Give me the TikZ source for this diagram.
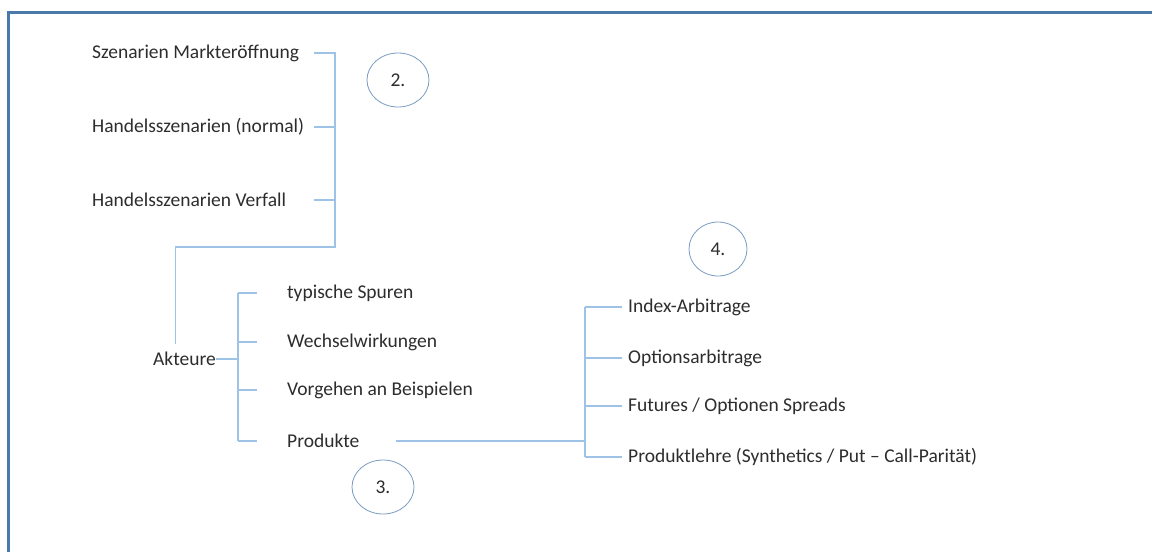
\documentclass[tikz,border=0pt]{standalone}
\usepackage{xcolor}
\usepackage{fontspec}
\setmainfont{Carlito}
\usepackage{tikz}
\usetikzlibrary{shapes.geometric}

\definecolor{rahmen}{RGB}{74,122,168}
\definecolor{linie}{RGB}{157,195,230}
\definecolor{kreis}{RGB}{122,156,194}
\definecolor{schrift}{RGB}{45,45,45}

\begin{document}
\begin{tikzpicture}[x=1pt,y=-1pt,
        conn/.style={draw=linie, line width=1.2pt},
        eintrag/.style={anchor=west, inner sep=0pt, text=schrift,
                        font=\fontsize{19.5}{23}\selectfont},
        nummer/.style={ellipse, draw=kreis, line width=0.8pt, text=schrift,
                       minimum width=#1, minimum height=54pt,
                       font=\fontsize{19.5}{23}\selectfont},
        nummer/.default=62pt]
        % Seite und Rahmen
        \fill[white] (0,0) rectangle (1152,552);
        \useasboundingbox (0,0) rectangle (1152,552);
        \draw[rahmen, line width=3pt] (1152,12) -- (8,12) -- (8,552);
        % Szenarien (2.)
        \node[eintrag] (szen) at (92,53) {Szenarien Markteröffnung};
        \node[eintrag] (normal) at (92,127) {Handelsszenarien (normal)};
        \node[eintrag] (verfall) at (92,200) {Handelsszenarien Verfall};
        \coordinate (st2) at (314,53);
        \coordinate (j2) at (335,247);
        \node[nummer] (n2) at (398,80) {2.};
        % Akteure und Unterpunkte (3.)
        \node[eintrag] (akteure) at (153,359) {Akteure};
        \coordinate (sp1) at (238,359);
        \node[eintrag] (spuren) at (287,293) {typische Spuren};
        \node[eintrag] (wechsel) at (287,342) {Wechselwirkungen};
        \node[eintrag] (vorgehen) at (287,390) {Vorgehen an Beispielen};
        \node[eintrag] (produkte) at (287,441) {Produkte};
        \node[nummer] (n3) at (383,487) {3.};
        % Produkte (4.)
        \coordinate (sp2) at (585,441);
        \node[eintrag] (index) at (628,307) {Index-Arbitrage};
        \node[eintrag] (optarb) at (628,358) {Optionsarbitrage};
        \node[eintrag] (futures) at (628,406) {Futures / Optionen Spreads};
        \node[eintrag] (lehre) at (628,457) {Produktlehre (Synthetics / Put -- Call-Parität)};
        \node[nummer=58pt] (n4) at (718,249) {4.};
        % Verbinder
        \draw[conn] (st2) -| (j2) -| ([xshift=-9pt,yshift=8pt]akteure.north);
        \draw[conn] (st2 |- normal) -- (normal.east -| j2);
        \draw[conn] (st2 |- verfall) -- (verfall.east -| j2);
        \draw[conn] (akteure.east) -- (sp1);
        \draw[conn] (sp1 |- spuren) -- (sp1 |- produkte);
        \foreach \p in {spuren,wechsel,vorgehen,produkte}
            \draw[conn] (sp1 |- \p) -- ([xshift=-30pt]\p.west);
        \draw[conn] ([xshift=36pt]produkte.east) -- (sp2);
        \draw[conn] (sp2 |- index) -- (sp2 |- lehre);
        \foreach \p in {index,optarb,futures,lehre}
            \draw[conn] (sp2 |- \p) -- ([xshift=-6pt]\p.west);
    \end{tikzpicture}
\end{document}
